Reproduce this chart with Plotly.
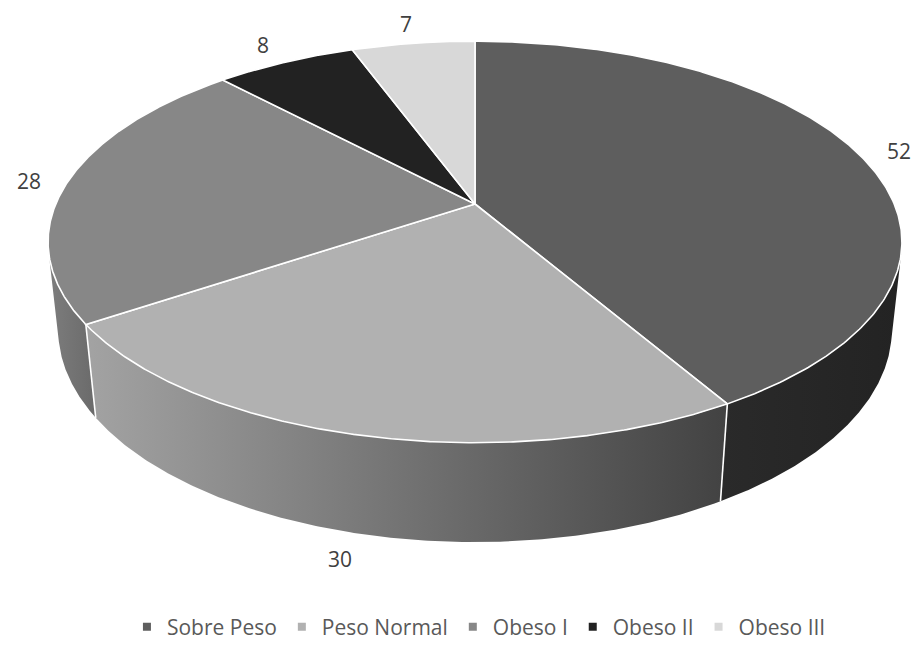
import numpy as np
import plotly.graph_objects as go

# ---- data -------------------------------------------------------------
categories = ["Sobre Peso", "Peso Normal", "Obeso I", "Obeso II", "Obeso III"]
values = [52, 30, 28, 8, 7]

# ---- style ------------------------------------------------------------
top_colors = ["#5e5e5e", "#b1b1b1", "#878787", "#222222", "#d8d8d8"]
wall_colors = [
    ("#2a2a2a", "#232323"),
    ("#a3a3a3", "#424242"),
    ("#7d7d7d", "#6a6a6a"),
    ("#151515", "#151515"),
    ("#bdbdbd", "#bdbdbd"),
]
FONT = "Open Sans"
W, H = 914, 656

# ---- 3D pie geometry (unit-radius disc seen in perspective) ------------
CX, CY = 475.0, 204.0          # screen position of the disc centre
F = 1967.0                     # focal length in pixels
ELEV = np.radians(27.5)        # camera elevation
CA, SA = np.cos(ELEV), np.sin(ELEV)
DIST = 4.692                   # camera distance in radii
THICK = 0.238                  # disc thickness in radii


def project(theta_deg, r, y):
    """Angle measured clockwise from 12 o'clock; y is height (0 = top face)."""
    t = np.radians(theta_deg)
    xs = r * np.sin(t)
    zs = -r * np.cos(t)
    depth = DIST - (y * SA + zs * CA)
    X = CX + F * xs / depth
    Y = CY - F * (y * CA - zs * SA) / depth
    return X, Y


total = float(sum(values))
bounds = np.concatenate([[0.0], np.cumsum(values) / total * 360.0])

# outer wall is visible where the outward normal faces the camera
z_min = 1.0 / (DIST * CA)
vis_lo = np.degrees(np.arccos(-z_min))
vis_hi = 360.0 - vis_lo

fig = go.Figure()

# walls
seam_x, seam_y = [], []
for i, cat in enumerate(categories):
    a, b = bounds[i], bounds[i + 1]
    lo, hi = max(a, vis_lo), min(b, vis_hi)
    if hi <= lo:
        continue
    th = np.linspace(lo, hi, 200)
    xt, yt = project(th, 1.0, 0.0)
    xb, yb = project(th[::-1], 1.0, -THICK)
    xs = np.concatenate([xt, xb, xt[:1]])
    ys = np.concatenate([yt, yb, yt[:1]])
    c1, c2 = wall_colors[i]
    fig.add_trace(go.Scatter(
        x=xs, y=ys, mode="lines", fill="toself",
        fillgradient=dict(type="horizontal", colorscale=[[0, c1], [1, c2]]),
        line=dict(width=0, color=c1),
        hoverinfo="skip", showlegend=False,
    ))

for ang in bounds[1:-1]:
    if vis_lo < ang < vis_hi:
        x0, y0 = project(ang, 1.0, 0.0)
        x1, y1 = project(ang, 1.0, -THICK)
        seam_x += [x0, x1, None]
        seam_y += [y0, y1, None]
fig.add_trace(go.Scatter(
    x=seam_x, y=seam_y, mode="lines",
    line=dict(color="white", width=1.6),
    hoverinfo="skip", showlegend=False,
))

# top faces
for i, cat in enumerate(categories):
    a, b = bounds[i], bounds[i + 1]
    th = np.linspace(a, b, 300)
    xr, yr = project(th, 1.0, 0.0)
    xs = np.concatenate([[CX], xr, [CX]])
    ys = np.concatenate([[CY], yr, [CY]])
    fig.add_trace(go.Scatter(
        x=xs, y=ys, mode="lines", fill="toself",
        fillcolor=top_colors[i],
        line=dict(color="white", width=1.6),
        hoverinfo="skip", showlegend=False,
    ))

# legend entries
for i, cat in enumerate(categories):
    fig.add_trace(go.Scatter(
        x=[None], y=[None], mode="markers", name=cat,
        marker=dict(symbol="square", size=8, color=top_colors[i]),
    ))

# data labels just outside each slice
for i, v in enumerate(values):
    mid = (bounds[i] + bounds[i + 1]) / 2.0
    zs_mid = -np.cos(np.radians(mid))
    r_lab = 1.09 + 0.06 * max(-zs_mid, 0.0)
    lx, ly = project(mid, r_lab, -THICK * max(zs_mid, 0.0))
    if zs_mid > 0:
        lx -= 10.0
    fig.add_annotation(
        x=float(lx), y=float(ly), text=str(v), showarrow=False,
        xanchor="center", yanchor="middle",
        font=dict(family=FONT, size=21, color="#404040"),
    )

fig.update_layout(
    width=W, height=H, autosize=False,
    margin=dict(l=0, r=0, t=0, b=0),
    paper_bgcolor="white", plot_bgcolor="white",
    xaxis=dict(range=[0, W], visible=False, fixedrange=True),
    yaxis=dict(range=[H, 0], visible=False, fixedrange=True),
    legend=dict(
        orientation="h", x=0.524, xanchor="center",
        y=29.0 / H, yanchor="middle",
        font=dict(family=FONT, size=21, color="#595959"),
        bgcolor="rgba(0,0,0,0)",
    ),
    showlegend=True,
)

fig.write_html("out.html")
